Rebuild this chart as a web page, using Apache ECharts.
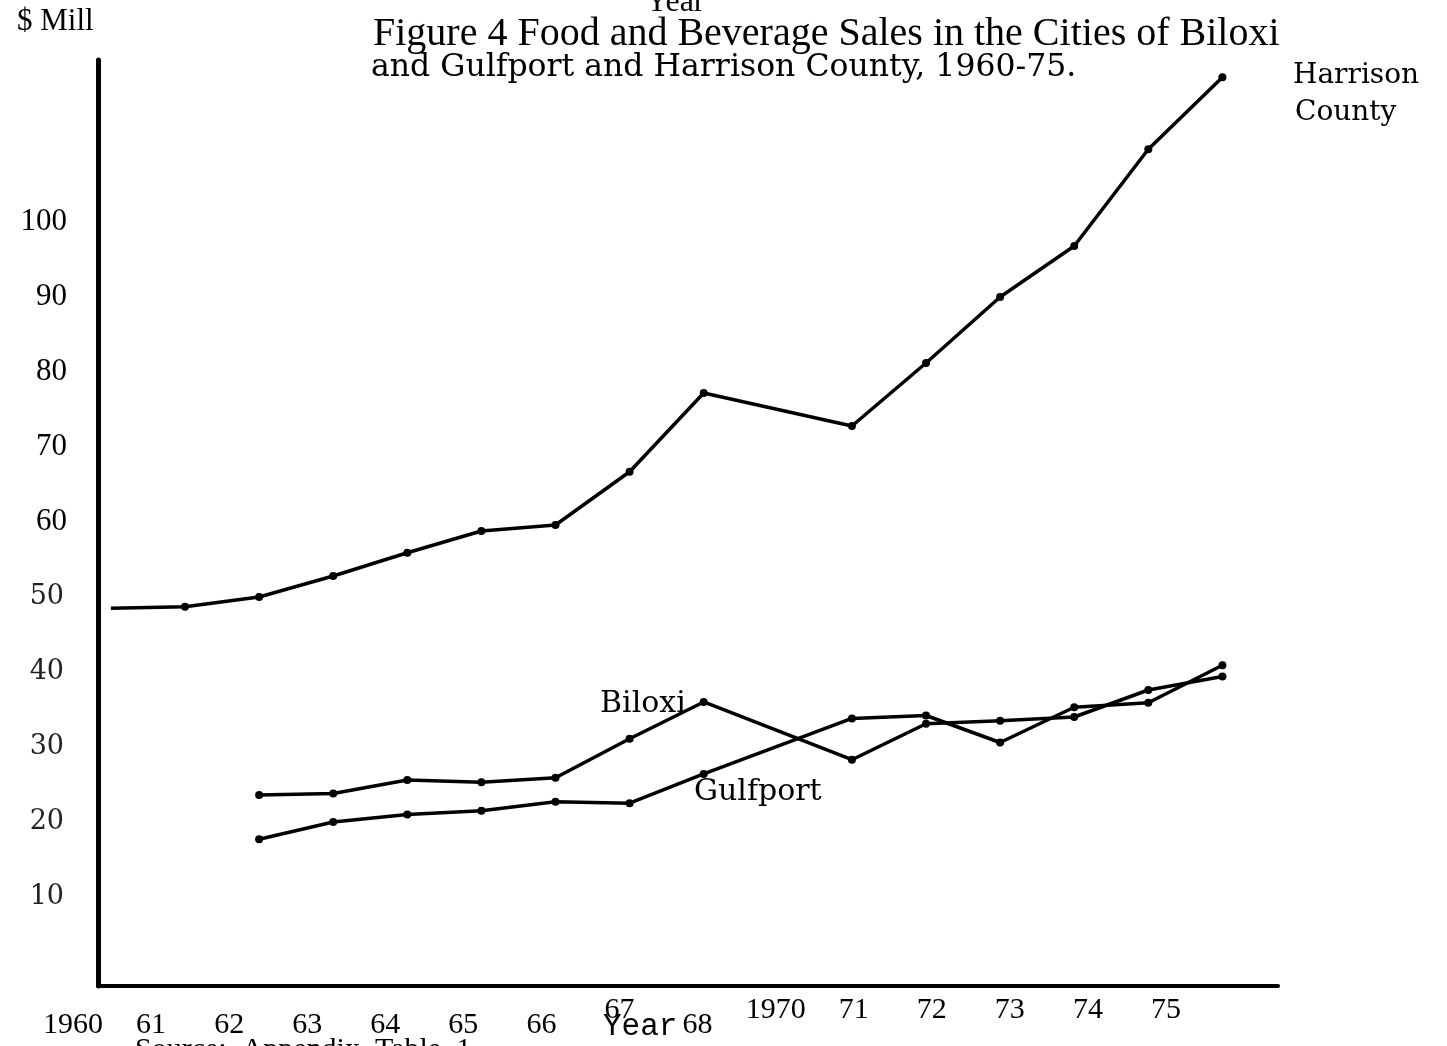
<!DOCTYPE html>
<html>
<head>
<meta charset="utf-8">
<script src="https://cdn.jsdelivr.net/npm/echarts@6/dist/echarts.min.js"></script>
<style>
  html, body { margin: 0; padding: 0; background: #fff; }
  #chart { width: 1447px; height: 1046px; }
</style>
</head>
<body>
<div id="chart"></div>
<script>
// x labels as typed under the axis (1969 is skipped)
const yearLabels = ['1960', '61', '62', '63', '64', '65', '66', '67', '68', '1970', '71', '72', '73', '74', '75'];
const salesTicks = [10, 20, 30, 40, 50, 60, 70, 80, 90, 100];

// $ million
const harrisonYears = [1960, 1961, 1962, 1963, 1964, 1965, 1966, 1967, 1968, 1970, 1971, 1972, 1973, 1974, 1975];
const harrisonSales = [48.5, 48.7, 50.0, 52.8, 55.9, 58.8, 59.6, 66.7, 77.2, 72.8, 81.2, 90.0, 96.8, 109.7, 119.3];

const cityYears = [1962, 1963, 1964, 1965, 1966, 1967, 1968, 1970, 1971, 1972, 1973, 1974, 1975];
const biloxiSales = [23.6, 23.8, 25.6, 25.3, 25.9, 31.1, 36.0, 28.3, 33.1, 33.5, 34.0, 37.6, 39.4];
const gulfportSales = [17.7, 20.0, 21.0, 21.5, 22.7, 22.5, 26.4, 33.8, 34.2, 30.6, 35.3, 35.9, 40.9];

const chart = echarts.init(document.getElementById('chart'));

function pairs(xs, ys) {
  return xs.map((x, i) => [x, ys[i]]);
}

function lineSeries(name, data) {
  return {
    name: name,
    type: 'line',
    xAxisIndex: 0,
    yAxisIndex: 0,
    data: data,
    symbol: 'circle',
    symbolSize: 8,
    itemStyle: { color: '#000' },
    lineStyle: { color: '#000', width: 3.5, join: 'round' },
    z: 3
  };
}

const harrisonData = pairs(harrisonYears, harrisonSales).map((p, i) =>
  i === 0 ? { value: p, symbol: 'none' } : p
);

// label rows: the typed labels sit at slightly different heights
const labelRow = ['lo', 'lo', 'lo', 'lo', 'lo', 'lo', 'lo', 'hi', 'lo', 'hi', 'hi', 'hi', 'hi', 'hi', 'hi'];

const option = {
  animation: false,
  backgroundColor: '#fff',
  grid: [
    { left: 98, right: 169, top: 60, bottom: 60 },
    { left: 73, right: 281, top: 60, bottom: 60 }
  ],
  xAxis: [
    {
      type: 'value',
      gridIndex: 0,
      min: 1959.826,
      max: 1975.75,
      axisLine: { show: true, onZero: false, lineStyle: { color: '#000', width: 4 } },
      axisTick: { show: false },
      axisLabel: { show: false },
      splitLine: { show: false }
    },
    {
      type: 'category',
      gridIndex: 1,
      boundaryGap: false,
      data: yearLabels,
      axisLine: { show: false },
      axisTick: { show: false },
      splitLine: { show: false },
      axisLabel: {
        interval: 0,
        margin: 9,
        color: '#000',
        formatter: (v, i) => '{' + labelRow[i] + '|' + v + '}',
        rich: {
          hi: { fontFamily: 'Liberation Serif', fontSize: 30, color: '#000' },
          lo: { fontFamily: 'Liberation Serif', fontSize: 30, color: '#000', padding: [15, 0, 0, 0] }
        }
      }
    }
  ],
  yAxis: [
    {
      type: 'value',
      gridIndex: 0,
      min: -1.87,
      max: 121.6,
      axisLine: { show: true, lineStyle: { color: '#000', width: 5 } },
      axisTick: { show: false },
      splitLine: { show: false },
      axisLabel: {
        customValues: salesTicks,
        margin: 31,
        formatter: v => (v >= 60 ? '{big|' + v + '}' : '{small|' + v + '}'),
        rich: {
          big: { fontFamily: 'Liberation Serif', fontSize: 31, color: '#000' },
          small: { fontFamily: 'DejaVu Serif', fontSize: 27, color: '#222', padding: [0, 3, 0, 0] }
        }
      }
    },
    { type: 'value', gridIndex: 1, show: false }
  ],
  series: [
    lineSeries('Harrison County', harrisonData),
    lineSeries('Biloxi', pairs(cityYears, biloxiSales)),
    lineSeries('Gulfport', pairs(cityYears, gulfportSales))
  ],
  graphic: [
    { type: 'text', x: 17, y: 22, style: { text: '$ Mill', font: '31px "Liberation Serif"', fill: '#000', align: 'left', verticalAlign: 'middle' } },
    { type: 'text', x: 675, y: 3, style: { text: 'Year', font: '32px "Liberation Serif"', fill: '#000', align: 'center', verticalAlign: 'middle' } },
    { type: 'text', x: 373, y: 34, style: { text: 'Figure 4 Food and Beverage Sales in the Cities of Biloxi', font: '40px "Liberation Serif"', fill: '#000', align: 'left', verticalAlign: 'middle' } },
    { type: 'text', x: 371, y: 68, style: { text: 'and Gulfport and Harrison County, 1960-75.', font: '31.5px "DejaVu Serif"', fill: '#000', align: 'left', verticalAlign: 'middle' } },
    { type: 'text', x: 1293, y: 76, style: { text: 'Harrison', font: '28px "DejaVu Serif"', fill: '#000', align: 'left', verticalAlign: 'middle' } },
    { type: 'text', x: 1295, y: 113, style: { text: 'County', font: '28px "DejaVu Serif"', fill: '#000', align: 'left', verticalAlign: 'middle' } },
    { type: 'text', x: 600, y: 704, style: { text: 'Biloxi', font: '30px "DejaVu Serif"', fill: '#000', align: 'left', verticalAlign: 'middle' } },
    { type: 'text', x: 694, y: 792, style: { text: 'Gulfport', font: '30px "DejaVu Serif"', fill: '#000', align: 'left', verticalAlign: 'middle' } },
    { type: 'text', x: 603, y: 1027, style: { text: 'Year', font: '31px "Liberation Mono"', fill: '#000', align: 'left', verticalAlign: 'middle' } },
    { type: 'text', x: 135, y: 1050, style: { text: 'Source:  Appendix  Table  1', font: '30px "Liberation Serif"', fill: '#000', align: 'left', verticalAlign: 'middle' } }
  ]
};

chart.setOption(option);
</script>
</body>
</html>
